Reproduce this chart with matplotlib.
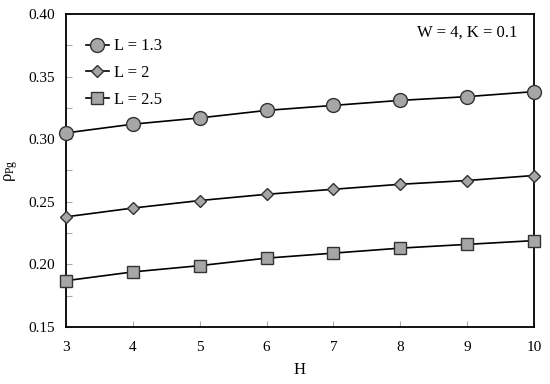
import matplotlib
matplotlib.use("Agg")
import matplotlib.pyplot as plt
from matplotlib.ticker import MultipleLocator

plt.rcParams['font.family'] = ['Liberation Serif', 'DejaVu Serif']
plt.rcParams['mathtext.fontset'] = 'custom'
plt.rcParams['mathtext.rm'] = 'Liberation Serif'
plt.rcParams['mathtext.it'] = 'Liberation Serif'

H = [3, 4, 5, 6, 7, 8, 9, 10]
rho_L13 = [0.305, 0.312, 0.317, 0.323, 0.327, 0.331, 0.334, 0.338]
rho_L2 = [0.238, 0.245, 0.251, 0.256, 0.260, 0.264, 0.267, 0.271]
rho_L25 = [0.187, 0.194, 0.199, 0.205, 0.209, 0.213, 0.216, 0.219]
labels = ['L = 1.3', 'L = 2', 'L = 2.5']

fig = plt.figure(figsize=(5.5, 3.84), dpi=100)
ax = fig.add_axes([66/550, 1-327/384, (534-66)/550, (327-14)/384])

fc = '#a6a6a6'
ec = '#333333'
ax.plot(H, rho_L13, '-o', color='black', lw=1.2, ms=10, mfc=fc, mec=ec, mew=1.0, label=labels[0], clip_on=False, zorder=3)
ax.plot(H, rho_L2, '-D', color='black', lw=1.2, ms=6.5, mfc=fc, mec=ec, mew=1.0, label=labels[1], clip_on=False, zorder=3)
ax.plot(H, rho_L25, '-s', color='black', lw=1.2, ms=9, mfc=fc, mec=ec, mew=1.0, label=labels[2], clip_on=False, zorder=3)

ax.set_xlim(3, 10)
ax.set_ylim(0.15, 0.40)
ax.set_xticks(H)
ax.yaxis.set_major_locator(MultipleLocator(0.05))
ax.yaxis.set_minor_locator(MultipleLocator(0.025))
ax.yaxis.set_major_formatter(matplotlib.ticker.FormatStrFormatter('%.2f'))
ax.tick_params(axis='both', which='both', direction='in', color='#aaaaaa', labelsize=11, width=0.8)
ax.tick_params(axis='both', which='major', length=4)
ax.tick_params(axis='y', which='minor', length=4)
ax.tick_params(axis='x', pad=10)
ax.tick_params(axis='y', pad=8)
for s in ax.spines.values():
    s.set_linewidth(1.3)

ax.set_xlabel('H', fontsize=12, labelpad=6)
ax.set_ylabel(r'$\rho_{\rm Pg}$', fontsize=12, labelpad=6)

ax.text(0.965, 0.965, 'W = 4, K = 0.1', transform=ax.transAxes, ha='right', va='top', fontsize=12)

ax.legend(loc='upper left', bbox_to_anchor=(0.01, 0.97), frameon=False, fontsize=12,
          handlelength=1.4, labelspacing=0.65, handletextpad=0.3)

fig.savefig('out.png', dpi=100)
